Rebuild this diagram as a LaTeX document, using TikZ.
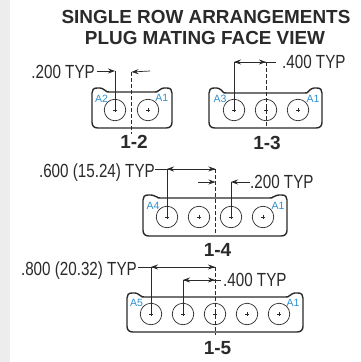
\documentclass[tikz,border=0pt]{standalone}
\usepackage{fontspec}
\setmainfont{Liberation Sans}
\newfontfamily\condfont[FakeStretch=0.8]{Liberation Sans}
\usetikzlibrary{arrows.meta}
\definecolor{pinblue}{HTML}{2E8FD0}
\definecolor{ink}{HTML}{2A2A2A}
\tikzset{
  x=1pt,y=-1pt,
  shell/.style={draw=ink,line width=1.4pt,line join=round},
  pin/.style={circle,draw=ink,line width=0.7pt,minimum size=21.5pt,inner sep=0pt},
  dim/.style={draw=ink,line width=0.7pt},
  dimarrow/.style={draw=ink,line width=0.7pt,-{Stealth[length=7pt,width=5pt]}},
  center/.style={draw=ink,line width=0.7pt,dash pattern=on 4pt off 2pt},
  lbl/.style={font=\condfont\fontsize{19}{20}\selectfont,text=ink,inner sep=0pt},
  ttl/.style={font=\bfseries\fontsize{18.9}{20}\selectfont,text=ink,inner sep=0pt},
  code/.style={font=\bfseries\fontsize{19}{20}\selectfont,text=ink,inner sep=0pt},
  cav/.style={font=\fontsize{10.5}{11}\selectfont,text=pinblue,inner sep=0pt},
}
\newcommand{\shellat}[5]{% left right top(ears) flat bottom
  \draw[shell] (#1+5,#3) .. controls (#1+9,#3-0.5) and (#1+12,#3+1) .. (#1+14,#4-1)
    .. controls (#1+15,#4) .. (#1+18,#4) -- (#2-18,#4)
    .. controls (#2-15,#4) .. (#2-14,#4-1)
    .. controls (#2-12,#3+1) and (#2-9,#3-0.5) .. (#2-5,#3)
    .. controls (#2-1.5,#3) and (#2,#3+2) .. (#2,#3+5) -- (#2,#5-6)
    .. controls (#2,#5-2) and (#2-2,#5) .. (#2-6,#5) -- (#1+6,#5)
    .. controls (#1+2,#5) and (#1,#5-2) .. (#1,#5-6) -- (#1,#3+5)
    .. controls (#1,#3+2) and (#1+1.5,#3) .. (#1+5,#3) -- cycle;
}
\newcommand{\pinat}[3]{%
  \node[pin] (#1) at (#2,#3) {};
  \draw[ink,line width=0.5pt] (#2-2,#3) -- (#2+2,#3) (#2,#3-2) -- (#2,#3+2);
}
\begin{document}
\begin{tikzpicture}
\useasboundingbox (0,0) rectangle (360,362);
\fill[white] (0,0) rectangle (360,362);
\fill[black!7] (0,0) rectangle (10,362);
% title
\node[ttl] (t1) at (206,17) {SINGLE ROW ARRANGEMENTS};
\node[ttl] (t2) at (205,38) {PLUG MATING FACE VIEW};
% 1-2
\shellat{92}{172}{88}{92}{128}
\pinat{p12a}{115}{110}
\pinat{p12b}{148}{110}
\node[cav] (a2) at (101.5,99) {A2};
\node[cav] (a1) at (161.7,98) {A1};
\node[lbl,anchor=east] (d12) at (95,72) {.200 TYP};
\coordinate (c12t) at (131.5,72);
\coordinate (c12b) at (131.5,134);
\draw[center] (c12t) -- (c12b);
\coordinate (k12) at (115,71);
\draw[dim] (k12) -- (p12a.center);
\draw[dimarrow] (d12.east) ++(2,-1) -- (k12);
\draw[dimarrow] (150,71) -- (c12t);
\node[code] (n12) at (134,142) {1-2};
% 1-3
\shellat{209}{322}{88}{93}{128}
\pinat{p13a}{234}{110}
\pinat{p13b}{266}{110}
\pinat{p13c}{298}{110}
\node[cav] (a3) at (220,98.5) {A3};
\node[cav] (b1) at (313,98.5) {A1};
\node[lbl,anchor=west] (d13) at (282,62) {.400 TYP};
\coordinate (c13t) at (266,62);
\coordinate (k13) at (234,62);
\draw[center] (c13t) -- (266,126);
\draw[dim] (p13a.center) -- (k13) -- (c13t);
\draw[dim] (c13t) -- (276,62);
\draw[dimarrow] (250,62) -- (k13);
\draw[dimarrow] (250,62) -- (c13t);
\node[code] (n13) at (267,142.5) {1-3};
% 1-4
\shellat{143}{287}{195}{198}{236}
\pinat{p14a}{167}{217}
\pinat{p14b}{199}{217}
\pinat{p14c}{231}{217}
\pinat{p14d}{263}{217}
\node[cav] (a4) at (153,205.5) {A4};
\node[cav] (c1) at (278,205.5) {A1};
\node[lbl,anchor=east] (d14) at (155,173) {.600 (15.24) TYP};
\coordinate (c14t) at (215.5,169);
\coordinate (k14) at (167,169);
\draw[center] (c14t) -- (215.5,233);
\draw[dim] (d14.east |- k14) -- (k14) -- (p14a.center);
\draw[dim] (k14) -- (c14t);
\draw[dimarrow] (191,169) -- (k14);
\draw[dimarrow] (191,169) -- (c14t);
\draw[dimarrow] (198,182) -- (c14t |- 0,182);
\node[lbl,anchor=west] (e14) at (250,182) {.200 TYP};
\coordinate (k14b) at (231,182);
\draw[dim] (p14c.center) -- (k14b);
\draw[dimarrow] (250,182) -- (k14b);
\node[code] (n14) at (217.5,249.5) {1-4};
% 1-5
\shellat{127}{303}{293}{297}{332}
\pinat{p15a}{151}{314}
\pinat{p15b}{183}{314}
\pinat{p15c}{215}{314}
\pinat{p15d}{247}{314}
\pinat{p15e}{279}{314}
\node[cav] (a5) at (136.5,303) {A5};
\node[cav] (e1) at (293,303) {A1};
\node[lbl,anchor=east] (d15) at (137,271) {.800 (20.32) TYP};
\coordinate (c15t) at (215,267);
\coordinate (k15) at (151,267);
\draw[center] (c15t) -- (215,335);
\draw[dim] (d15.east |- k15) ++(1,0) -- (k15) -- (p15a.center);
\draw[dim] (k15) -- (c15t);
\draw[dimarrow] (183,267) -- (k15);
\draw[dimarrow] (183,267) -- (c15t);
\coordinate (k15b) at (183,280);
\draw[dim] (p15b.center) -- (k15b) -- (221,280);
\draw[dimarrow] (199,280) -- (k15b);
\draw[dimarrow] (199,280) -- (c15t |- 0,280);
\node[lbl,anchor=west] (e15) at (223,280) {.400 TYP};
\node[code] (n15) at (217.5,348) {1-5};
\end{tikzpicture}
\end{document}
